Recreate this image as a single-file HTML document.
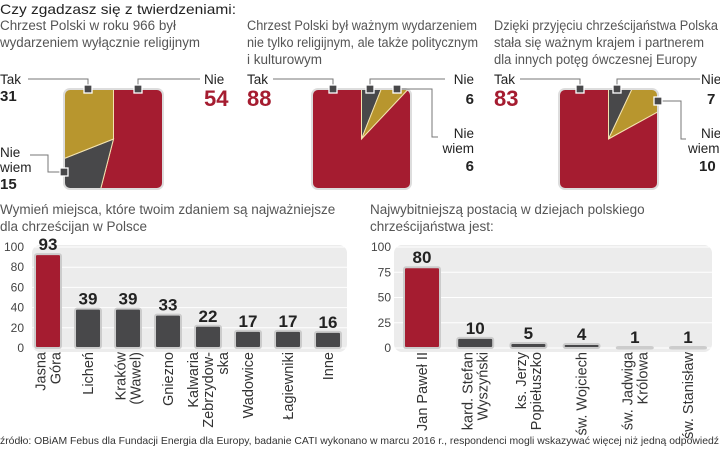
<!DOCTYPE html>
<html><head><meta charset="utf-8">
<style>
body{margin:0;width:720px;height:449px;background:#fff;overflow:hidden;font-family:"Liberation Sans",sans-serif;}
svg{position:absolute;left:0;top:0}
text{font-family:"Liberation Sans",sans-serif}
</style></head><body>
<svg width="720" height="449" viewBox="0 0 720 449">
<g id="pies">
<text x="0" y="14" font-size="14" fill="#222" textLength="236" lengthAdjust="spacingAndGlyphs">Czy zgadzasz się z twierdzeniami:</text>
<g fill="#555" font-size="13.5">
<text x="0" y="30" textLength="176" lengthAdjust="spacingAndGlyphs">Chrzest Polski w roku 966 był</text>
<text x="0" y="47" textLength="200" lengthAdjust="spacingAndGlyphs">wydarzeniem wyłącznie religijnym</text>
<text x="247" y="30" textLength="230" lengthAdjust="spacingAndGlyphs">Chrzest Polski był ważnym wydarzeniem</text>
<text x="247" y="47" textLength="231" lengthAdjust="spacingAndGlyphs">nie tylko religijnym, ale także politycznym</text>
<text x="247" y="64" textLength="75" lengthAdjust="spacingAndGlyphs">i kulturowym</text>
<text x="494" y="30" textLength="224" lengthAdjust="spacingAndGlyphs">Dzięki przyjęciu chrześcijaństwa Polska</text>
<text x="494" y="47" textLength="210" lengthAdjust="spacingAndGlyphs">stała się ważnym krajem i partnerem</text>
<text x="494" y="64" textLength="203" lengthAdjust="spacingAndGlyphs">dla innych potęg ówczesnej Europy</text>
</g>
</g>
<g id="bars1"></g>
<g id="bars2"></g>
<text x="0" y="444" font-size="10.5" fill="#333" textLength="719" lengthAdjust="spacingAndGlyphs">źródło: OBiAM Febus dla Fundacji Energia dla Europy, badanie CATI wykonano w marcu 2016 r., respondenci mogli wskazywać więcej niż jedną odpowiedź</text>
</svg>
<script>
const NS="http://www.w3.org/2000/svg";
function mk(p,t,a,txt){const e=document.createElementNS(NS,t);for(const k in a)e.setAttribute(k,a[k]);if(txt!==undefined)e.textContent=txt;p.appendChild(e);return e;}
const RED="#a51c30",DARK="#48484a",GOLD="#b8962e";

// Pie data
const pieNames=["religious-only","political-cultural","partner-europe"];
const pieTak=[31,88,83];
const pieNie=[54,6,7];
const pieNieWiem=[15,6,10];

const pieBoxes=[64,312,559];
const piesG=document.getElementById('pies');
function pt(cx,cy,r,f){const a=f*2*Math.PI;return [cx+r*Math.sin(a),cy-r*Math.cos(a)];}
pieNames.forEach((n,i)=>{
  const x0=pieBoxes[i],y0=89,w=99,h=100,cx=x0+w/2,cy=y0+h/2;
  const g=mk(piesG,'g',{});
  
  
  const cid='clip'+i;
  const d=mk(g,'defs',{});const cp=mk(d,'clipPath',{id:cid});mk(cp,'rect',{x:x0,y:y0,width:w,height:h,rx:6});
  let slices;
  if(i===0) slices=[[pieNie[i],RED,'nie'],[pieNieWiem[i],DARK,'nie-wiem'],[pieTak[i],GOLD,'tak']];
  else slices=[[pieNie[i],DARK,'nie'],[pieNieWiem[i],GOLD,'nie-wiem'],[pieTak[i],RED,'tak']];
  const tot=slices.reduce((s,v)=>s+v[0],0);
  let acc=0;const sg=mk(g,'g',{'clip-path':'url(#'+cid+')'});
  slices.forEach(s=>{
    const a0=acc/tot,a1=(acc+s[0])/tot;acc+=s[0];
    const p0=pt(cx,cy,120,a0),p1=pt(cx,cy,120,a1);
    const e=mk(sg,'path',{d:`M${cx},${cy}L${p0[0]},${p0[1]}A120,120 0 ${(a1-a0)>0.5?1:0} 1 ${p1[0]},${p1[1]}Z`,fill:s[1],stroke:'#f3e3b0','stroke-width':1});
    
    
  });
  mk(g,'rect',{x:x0,y:y0,width:w,height:h,rx:6,fill:'none',stroke:'#ddd','stroke-width':2});
});
function line(pts){mk(piesG,'polyline',{points:pts,fill:'none',stroke:'#777','stroke-width':1});}
function mark(x,y){mk(piesG,'rect',{x:x-4,y:y-4,width:8,height:8,fill:'#48484a',stroke:'#fff','stroke-width':1.3});}
function lbl(x,y,t,opt){const e=mk(piesG,'text',Object.assign({x:x,y:y,'font-size':13.5,fill:'#222'},opt||{}),t);return e;}
function num(x,y,t,red,anchor){const e=mk(piesG,'text',{x:x,y:y,'font-size':red?22:15,'font-weight':'bold',fill:red?RED:'#222','text-anchor':anchor||'start'},t);}
// pie1
line('28,79 88,79 88,89');mark(88,89);
line('200,79 138,79 138,89');mark(138,89);
line('30,155 48,155 48,172 64,172');mark(64,172);
lbl(0,84,'Tak');num(0,101,pieTak[0]);
lbl(204,84,'Nie');num(204,106,pieNie[0],true);
lbl(0,157,'Nie');lbl(0,172,'wiem');num(0,189,pieNieWiem[0]);
// pie2
line('273,79 333,79 333,89');mark(333,89);
line('445,79 370,79 370,89');mark(370,89);
line('438,137 432,137 432,89 397,89');mark(397,89);
lbl(247,84,'Tak');num(247,106,pieTak[1],true);
lbl(474,84,'Nie',{'text-anchor':'end'});num(474,104,pieNie[1],false,'end');
lbl(474,138,'Nie',{'text-anchor':'end'});lbl(474,153,'wiem',{'text-anchor':'end'});num(474,171,pieNieWiem[1],false,'end');
// pie3
line('520,79 580,79 580,89');mark(580,89);
line('700,79 617,79 617,89');mark(617,89);
line('686,139 681,139 681,101 658,101');mark(658,101);
lbl(494,84,'Tak');num(494,106,pieTak[2],true);
lbl(701,84,'Nie');num(707,104,pieNie[2]);
lbl(701,138,'Nie');lbl(688,153,'wiem');num(699,171,pieNieWiem[2]);

// Bar chart 1
const cats1=["Jasna\nGóra","Licheń","Kraków\n(Wawel)","Gniezno","Kalwaria\nZebrzydow-\nska","Wadowice","Łagiewniki","Inne"];
const vals1=[93,39,39,33,22,17,17,16];
const ticks1=[0,20,40,60,80,100];
// Bar chart 2
const cats2=["Jan Paweł II","kard. Stefan\nWyszyński","ks. Jerzy\nPopiełuszko","św. Wojciech","św. Jadwiga\nKrólowa","św. Stanisław"];
const vals2=[80,10,5,4,1,1];
const ticks2=[0,25,50,75,100];

function barChart(gid,title,cats,vals,ticks,cfg){
  const g=document.getElementById(gid);
  const y=v=>cfg.y0-(v/100)*(cfg.y0-cfg.y100);
  const x=i=>cfg.c0+i*cfg.step;
  title.forEach((t,k)=>{const e=mk(g,'text',{x:cfg.tx,y:214+k*17,'font-size':13.5,fill:'#555'},t);});
  const bg=mk(g,'rect',{x:cfg.px0,y:cfg.y100-2,width:cfg.px1-cfg.px0,height:cfg.y0-cfg.y100+6,rx:8,fill:'#ececec'});
  
  ticks.forEach(t=>{
    mk(g,'line',{x1:cfg.px0,x2:cfg.px1,y1:y(t),y2:y(t),stroke:'#fff','stroke-width':1});
    const e=mk(g,'text',{x:cfg.lx,y:y(t)+4,'font-size':12,fill:'#444','text-anchor':'end'},t);
    
  });
  vals.forEach((v,i)=>{
    const r=mk(g,'rect',{x:x(i)-cfg.bw/2,y:y(v),width:cfg.bw,height:Math.max(y(0)-y(v),1.5),rx:2,fill:i===0?RED:DARK,stroke:'#ccc','stroke-width':2});
    
    const t=mk(g,'text',{x:x(i),y:y(v)-4,'font-size':17,'font-weight':'bold',fill:'#222','text-anchor':'middle'},v);
    
    const lines=cats[i].split('\n');const n=lines.length;
    lines.forEach((l,k)=>{
      const lx=x(i)+(k-(n-1)/2)*15+5;
      const e=mk(g,'text',{x:0,y:0,'font-size':14.5,fill:'#333','text-anchor':'end',transform:`translate(${lx},${cfg.y0+4}) rotate(-90)`},l);
      
    });
  });
}
barChart('bars1',["Wymień miejsca, które twoim zdaniem są najważniejsze","dla chrześcijan w Polsce"],cats1,vals1,ticks1,
  {y0:348,y100:247,c0:48,step:40,bw:26,px0:32,px1:347,lx:24,tx:0});
barChart('bars2',["Najwybitniejszą postacią w dziejach polskiego","chrześcijaństwa jest:"],cats2,vals2,ticks2,
  {y0:348,y100:247,c0:422,step:53.2,bw:36,px0:394,px1:712,lx:391,tx:370});
</script>
</body></html>
